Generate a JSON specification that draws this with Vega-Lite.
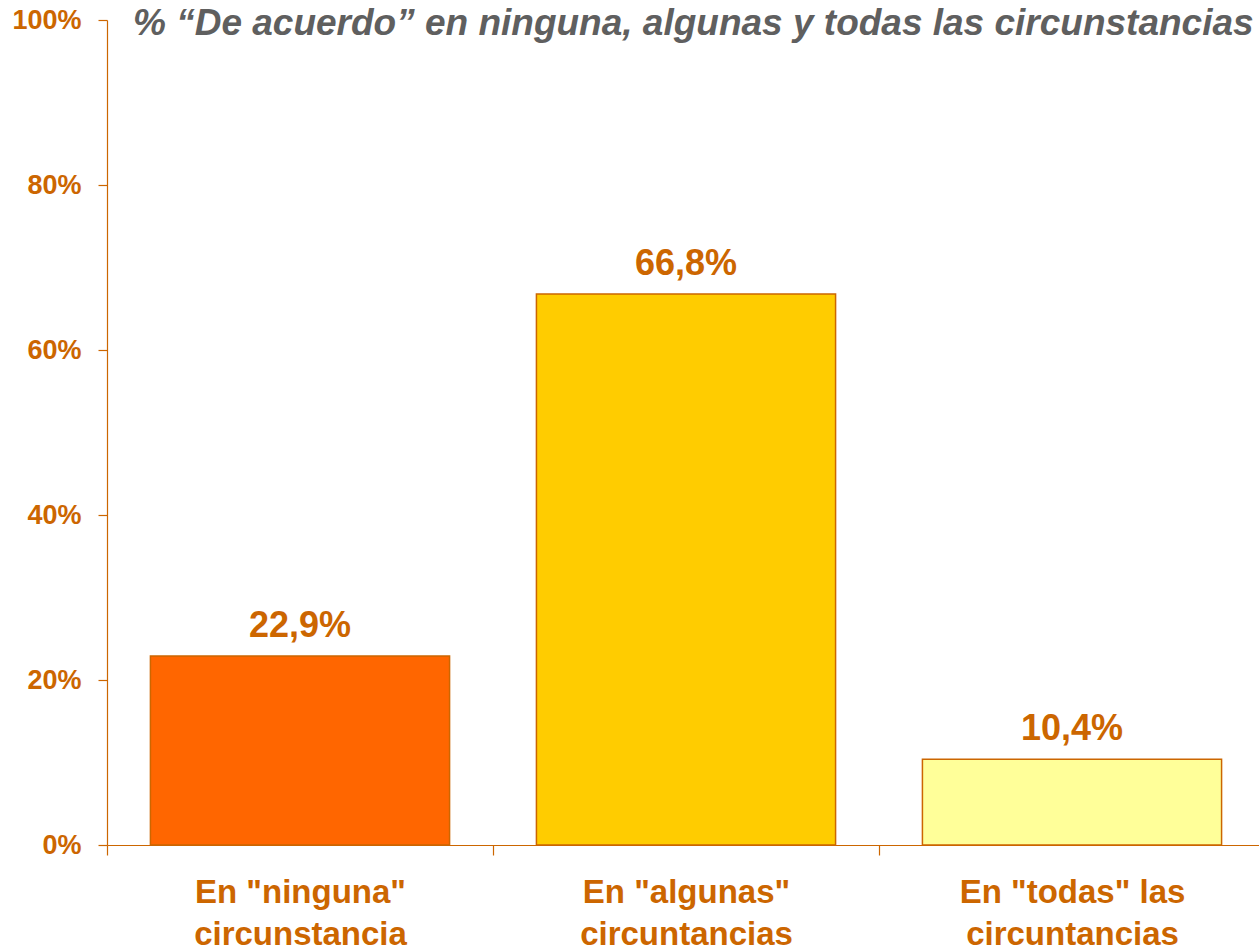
{
  "$schema": "https://vega.github.io/schema/vega-lite/v6.json",
  "width": 1158,
  "height": 825,
  "autosize": {"type": "none"},
  "padding": {"left": 107, "top": 20, "right": 0, "bottom": 103},
  "background": "white",
  "title": {
    "text": "% “De acuerdo” en ninguna, algunas y todas las circunstancias",
    "anchor": "start",
    "frame": "group",
    "orient": "top",
    "offset": 0,
    "dx": 26,
    "dy": 66,
    "baseline": "alphabetic",
    "font": "Liberation Sans",
    "fontSize": 37,
    "fontStyle": "italic",
    "fontWeight": "bold",
    "color": "#5F5F5F"
  },
  "config": {
    "locale": {"number": {"decimal": ",", "thousands": ".", "grouping": [3], "currency": ["", " €"]}},
    "view": {"stroke": null},
    "font": "Liberation Sans"
  },
  "data": {
    "values": [
      {"cat": "En \"ninguna\"|circunstancia", "value": 0.229, "order": 1},
      {"cat": "En \"algunas\"|circuntancias", "value": 0.668, "order": 2},
      {"cat": "En \"todas\" las|circuntancias", "value": 0.104, "order": 3}
    ]
  },
  "encoding": {
    "x": {
      "field": "cat",
      "type": "nominal",
      "sort": {"field": "order"},
      "scale": {"paddingInner": 0.225, "paddingOuter": 0.1125},
      "axis": {
        "title": null,
        "labelAngle": 0,
        "labelExpr": "split(datum.label, '|')",
        "labelFont": "Liberation Sans",
        "labelFontSize": 33,
        "labelFontWeight": "bold",
        "labelColor": "#CC6600",
        "labelLineHeight": 42,
        "labelPadding": 21,
        "labelBaseline": "top",
        "labelLimit": 0,
        "tickOffset": -193,
        "labelOffset": 193,
        "tickSize": 10,
        "tickColor": "#CC6600",
        "domainColor": "#CC6600",
        "domainWidth": 1.2,
        "tickWidth": 1.2
      }
    },
    "y": {
      "field": "value",
      "type": "quantitative",
      "scale": {"domain": [0, 1], "nice": false},
      "axis": {
        "title": null,
        "values": [0, 0.2, 0.4, 0.6, 0.8, 1],
        "format": ".0%",
        "grid": false,
        "labelFont": "Liberation Sans",
        "labelFontSize": 27,
        "labelFontWeight": "bold",
        "labelColor": "#CC6600",
        "labelPadding": 17,
        "tickSize": 9,
        "tickColor": "#CC6600",
        "domainColor": "#CC6600",
        "domainWidth": 1.2,
        "tickWidth": 1.2
      }
    }
  },
  "layer": [
    {
      "mark": {"type": "bar", "stroke": "#CC6600", "strokeWidth": 1.5},
      "encoding": {
        "color": {
          "field": "cat",
          "type": "nominal",
          "sort": {"field": "order"},
          "scale": {"range": ["#FF6600", "#FFCC00", "#FFFF99"]},
          "legend": null
        }
      }
    },
    {
      "mark": {
        "type": "text",
        "baseline": "alphabetic",
        "dy": -19,
        "font": "Liberation Sans",
        "fontSize": 36,
        "fontWeight": "bold",
        "color": "#CC6600"
      },
      "encoding": {
        "text": {"field": "value", "type": "quantitative", "format": ".1%"}
      }
    }
  ]
}
